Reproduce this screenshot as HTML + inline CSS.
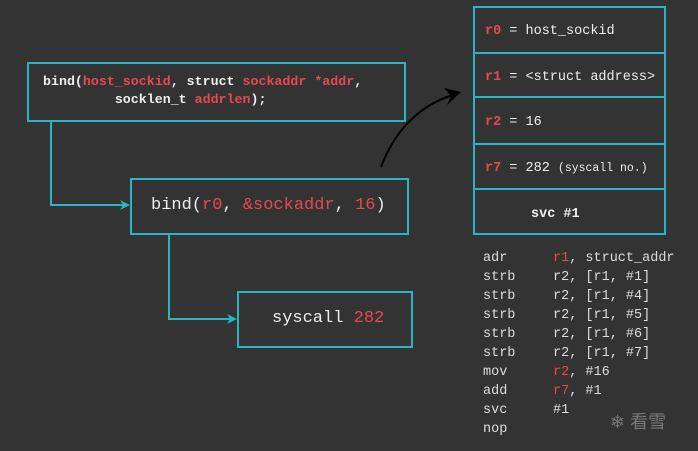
<!DOCTYPE html>
<html><head><style>
body{margin:0;width:698px;height:451px;background:#333333;overflow:hidden;position:relative;font-family:"Liberation Mono","DejaVu Sans Mono",monospace;color:#eee}
.b{position:absolute;border:2px solid #2ab5c5;box-sizing:border-box}
.r{color:#e8494f}
.t{position:absolute;white-space:pre}
.a{position:absolute;font-size:13.5px;white-space:pre;color:#ddd}
</style></head><body>
<svg width="698" height="451" style="position:absolute;left:0;top:0">
<g stroke="#2ab5c5" stroke-width="2" fill="none">
<polyline points="51,121 51,205 124,205"/>
<polyline points="169,234 169,319 231,319"/>
</g>
<polygon points="130,205 120,200 123,205 120,210" fill="#2ab5c5"/>
<polygon points="237,319 227,314 230,319 227,324" fill="#2ab5c5"/>
<path d="M381,167 C395,130 420,105 453,95" stroke="#000" stroke-width="2" fill="none"/>
<polygon points="461,92 444,88 451,96 447,105" fill="#000"/>
</svg>
<div class="b" style="left:27px;top:62px;width:379px;height:60px"></div>
<div class="t" style="left:43px;top:73px;font-size:13.3px;font-weight:600;line-height:18px">bind(<span class="r">host_sockid</span>, struct <span class="r">sockaddr *addr</span>,
         socklen_t <span class="r">addrlen</span>);</div>
<div class="b" style="left:130px;top:178px;width:279px;height:57px"></div>
<div class="t" style="left:151px;top:196px;font-size:17px">bind(<span class="r">r0</span>, <span class="r">&amp;sockaddr</span>, <span class="r">16</span>)</div>
<div class="b" style="left:237px;top:291px;width:176px;height:57px"></div>
<div class="t" style="left:272px;top:309px;font-size:17px">syscall <span class="r">282</span></div>
<div class="b" style="left:473px;top:6px;width:193px;height:229px"></div>
<div style="position:absolute;left:473px;width:193px;top:52px;height:2px;background:#2ab5c5"></div>
<div style="position:absolute;left:473px;width:193px;top:96px;height:2px;background:#2ab5c5"></div>
<div style="position:absolute;left:473px;width:193px;top:143px;height:2px;background:#2ab5c5"></div>
<div style="position:absolute;left:473px;width:193px;top:188px;height:2px;background:#2ab5c5"></div>
<div class="t" style="left:485px;top:24px;font-size:13.5px"><b class="r">r0</b> = host_sockid</div>
<div class="t" style="left:485px;top:70px;font-size:13.5px"><b class="r">r1</b> = &lt;struct address&gt;</div>
<div class="t" style="left:485px;top:115px;font-size:13.5px"><b class="r">r2</b> = 16</div>
<div class="t" style="left:485px;top:161px;font-size:13.5px"><b class="r">r7</b> = 282 <span style="font-size:11.5px">(syscall no.)</span></div>
<div class="t" style="left:531px;top:207px;font-size:13.5px;font-weight:bold">svc #1</div>
<div class="a" style="left:483px;top:249px;line-height:19px">adr
strb
strb
strb
strb
strb
mov
add
svc
nop</div>
<div class="a" style="left:553px;top:249px;line-height:19px"><span class="r">r1</span>, struct_addr
r2, [r1, #1]
r2, [r1, #4]
r2, [r1, #5]
r2, [r1, #6]
r2, [r1, #7]
<span class="r">r2</span>, #16
<span class="r">r7</span>, #1
#1</div>
<div class="t" style="left:610px;top:408px;font-size:18px;color:#777;font-family:'Liberation Sans','Noto Sans CJK SC',sans-serif">❄ 看雪</div>
</body></html>
